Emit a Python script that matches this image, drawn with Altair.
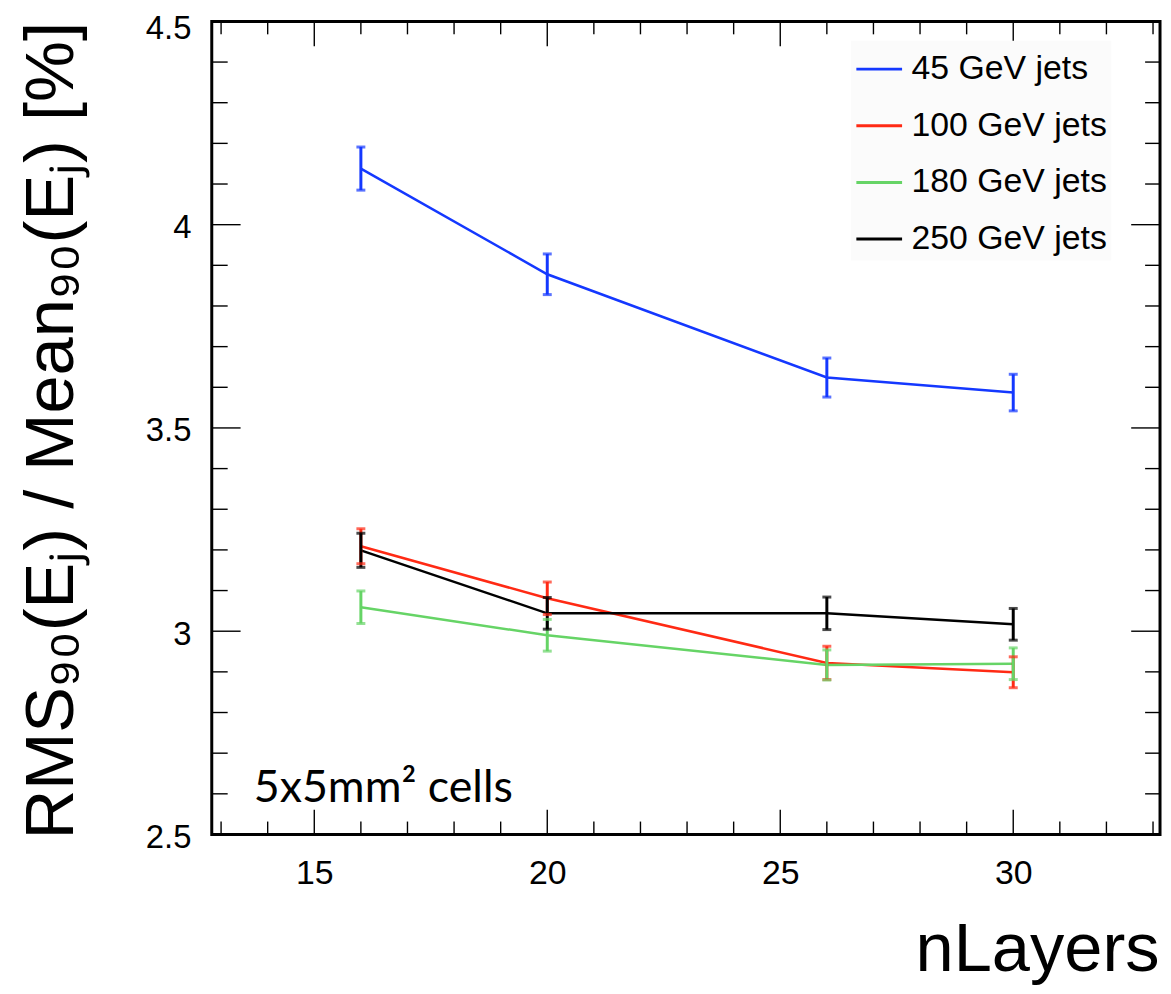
import altair as alt
import pandas as pd

# ---- data ----
n_layers = [16, 20, 26, 30]
series_names = ["45 GeV jets", "100 GeV jets", "180 GeV jets", "250 GeV jets"]
res_45 = [4.138, 3.878, 3.624, 3.587]
err_45 = [0.053, 0.050, 0.048, 0.045]
res_100 = [3.209, 3.081, 2.922, 2.899]
err_100 = [0.043, 0.040, 0.041, 0.038]
res_180 = [3.059, 2.990, 2.917, 2.920]
err_180 = [0.040, 0.039, 0.037, 0.039]
res_250 = [3.199, 3.044, 3.044, 3.017]
err_250 = [0.042, 0.039, 0.040, 0.039]
series_colors = ["#1438ff", "#ff2a14", "#66d466", "#000000"]

x_major = [15, 20, 25, 30]
x_minor = [13, 14, 16, 17, 18, 19, 21, 22, 23, 24, 26, 27, 28, 29, 31, 32, 33]
y_major = [2.5, 3.0, 3.5, 4.0, 4.5]
y_minor = [2.6, 2.7, 2.8, 2.9, 3.1, 3.2, 3.3, 3.4, 3.6, 3.7, 3.8, 3.9,
           4.1, 4.2, 4.3, 4.4]

annotation_text = ["5x5mm² cells"]
annotation_x = [13.70]
annotation_y = [2.579]

x_title = "nLayers"
y_title = "RMS₉₀(Eⱼ) / Mean₉₀(Eⱼ) [%]"

# ---- table ----
rows = []
all_vals = [res_45, res_100, res_180, res_250]
all_errs = [err_45, err_100, err_180, err_250]
for k, name in enumerate(series_names):
    for i, n in enumerate(n_layers):
        v = all_vals[k][i]
        e = all_errs[k][i]
        rows.append({"series": name, "order": k, "nLayers": n, "value": v,
                     "lo": v - e, "hi": v + e})
df = pd.DataFrame(rows)

W, H = 954, 818
FONT = "Liberation Sans"

xs = alt.Scale(domain=[12.8, 33.15], nice=False, zero=False)
ys = alt.Scale(domain=[2.5, 4.5], nice=False, zero=False)
cs = alt.Scale(domain=series_names, range=series_colors)

x_axis = alt.Axis(values=x_major, ticks=False, domain=False, grid=False,
                  labelFont=FONT, labelFontSize=34, labelColor="black",
                  labelPadding=22, labelFlush=False, format="d",
                  title=x_title, titleFont=FONT, titleFontSize=69,
                  titleFontWeight="normal", titleColor="black",
                  titleAlign="right", titleBaseline="alphabetic",
                  titleX=W - 1, titleY=137)
y_axis = alt.Axis(values=y_major, ticks=False, domain=False, grid=False,
                  labelFont=FONT, labelFontSize=33, labelColor="black",
                  labelPadding=21, labelFlush=False,
                  labelOffset={"condition": {"test": "datum.value >= 4.5",
                                             "value": 7},
                               "value": 3},
                  format=".2~f",
                  title=y_title, titleFont=FONT, titleFontSize=69,
                  titleFontWeight="normal", titleColor="black",
                  titleAngle=270, titleAlign="right",
                  titleBaseline="alphabetic", titleX=-140, titleY=0)

legend = alt.Legend(title=None, orient="none", legendX=643, legendY=19.5,
                    direction="vertical", symbolType="stroke",
                    symbolSize=2116, symbolStrokeWidth=3,
                    labelFont=FONT, labelFontSize=34, labelColor="black",
                    labelOffset=8, rowPadding=15, padding=4,
                    fillColor="#fbfbfb", labelLimit=400)

lines = alt.Chart(df).mark_line(strokeWidth=2.5).encode(
    x=alt.X("nLayers:Q", scale=xs, axis=x_axis),
    y=alt.Y("value:Q", scale=ys, axis=y_axis),
    color=alt.Color("series:N", scale=cs, legend=legend),
    detail="order:O",
)

bars = alt.Chart(df).mark_rule(strokeWidth=3).encode(
    x=alt.X("nLayers:Q", scale=xs),
    y=alt.Y("lo:Q", scale=ys),
    y2="hi:Q",
    color=alt.Color("series:N", scale=cs, legend=None),
)
cap_lo = alt.Chart(df).mark_tick(orient="horizontal", size=9, thickness=3).encode(
    x=alt.X("nLayers:Q", scale=xs),
    y=alt.Y("lo:Q", scale=ys),
    color=alt.Color("series:N", scale=cs, legend=None),
)
cap_hi = alt.Chart(df).mark_tick(orient="horizontal", size=9, thickness=3).encode(
    x=alt.X("nLayers:Q", scale=xs),
    y=alt.Y("hi:Q", scale=ys),
    color=alt.Color("series:N", scale=cs, legend=None),
)

ymaj = pd.DataFrame({"value": y_major})
ymin = pd.DataFrame({"value": y_minor})
xmaj = pd.DataFrame({"nLayers": x_major})
xmin = pd.DataFrame({"nLayers": x_minor})

def yticks(data, x0, x1):
    return alt.Chart(data).mark_rule(color="black", strokeWidth=1.4).encode(
        y=alt.Y("value:Q", scale=ys), x=alt.value(x0), x2=alt.value(x1))

def xticks(data, y0, y1):
    return alt.Chart(data).mark_rule(color="black", strokeWidth=1.4).encode(
        x=alt.X("nLayers:Q", scale=xs), y=alt.value(y0), y2=alt.value(y1))

tick_layers = [
    yticks(ymaj, 0, 29), yticks(ymin, 0, 16),
    yticks(ymaj, W, W - 29), yticks(ymin, W, W - 15),
    xticks(xmaj, H, H - 25), xticks(xmin, H, H - 13),
    xticks(xmaj, 0, 25), xticks(xmin, 0, 13),
]

ann = alt.Chart(pd.DataFrame({"label": annotation_text, "nLayers": annotation_x,
                              "value": annotation_y})).mark_text(
    font="Lato", fontSize=45, align="left", baseline="alphabetic",
    color="black").encode(
    x=alt.X("nLayers:Q", scale=xs),
    y=alt.Y("value:Q", scale=ys),
    text="label:N",
)

chart = alt.layer(lines, bars, cap_lo, cap_hi, *tick_layers, ann).properties(
    width=W, height=H,
    autosize=alt.AutoSizeParams(type="none"),
    padding={"left": 205, "top": 10.5, "right": 3, "bottom": 157.5},
).configure_view(stroke="black", strokeWidth=3)

chart.save("out.html", embed_options={"renderer": "svg", "actions": False})
